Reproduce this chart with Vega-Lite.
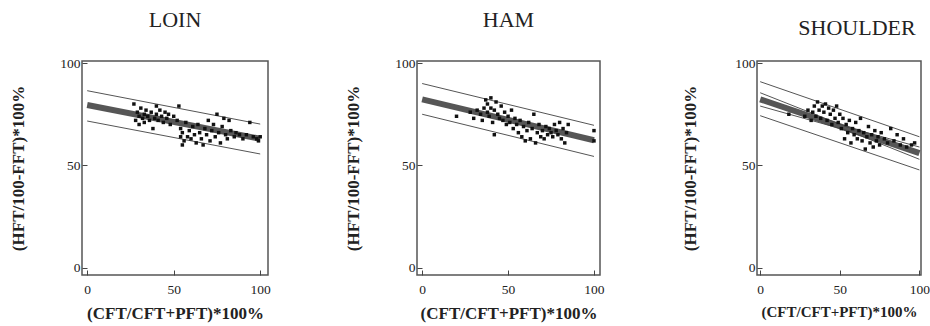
{
  "$schema": "https://vega.github.io/schema/vega-lite/v6.json",
  "background": "white",
  "padding": {"left": 9, "top": 8, "right": 0, "bottom": 0},
  "config": {
    "view": {"stroke": "#555", "strokeWidth": 1.5},
    "axis": {
      "labelFont": "Liberation Serif", "labelFontSize": 13.5, "labelColor": "#222",
      "titleFont": "Liberation Serif", "titleFontSize": 17, "titleFontWeight": "bold", "titleColor": "#222",
      "domain": false, "grid": false, "tickSize": -5, "tickColor": "#444", "tickWidth": 1
    },
    "title": {"font": "Liberation Serif", "fontSize": 22, "fontWeight": "normal", "color": "#222"}
  },
  "datasets": {
    "loin_pts": [
      {"x":27,"y":80},{"x":28,"y":72},{"x":29,"y":76},{"x":30,"y":74},{"x":30,"y":70},{"x":31,"y":78},{"x":32,"y":73},{"x":33,"y":75},{"x":33,"y":71},{"x":34,"y":77},
      {"x":35,"y":74},{"x":36,"y":72},{"x":37,"y":76},{"x":38,"y":68},{"x":39,"y":73},{"x":40,"y":79},{"x":40,"y":75},{"x":41,"y":72},{"x":42,"y":77},{"x":43,"y":74},
      {"x":44,"y":71},{"x":45,"y":76},{"x":46,"y":73},{"x":47,"y":75},{"x":48,"y":70},{"x":50,"y":74},{"x":52,"y":72},{"x":53,"y":79},{"x":54,"y":68},{"x":54,"y":64},
      {"x":55,"y":60},{"x":55,"y":66},{"x":56,"y":62},{"x":57,"y":71},{"x":58,"y":64},{"x":59,"y":67},{"x":60,"y":63},{"x":61,"y":69},{"x":62,"y":65},{"x":63,"y":61},
      {"x":64,"y":70},{"x":65,"y":66},{"x":66,"y":63},{"x":67,"y":60},{"x":68,"y":68},{"x":69,"y":65},{"x":70,"y":72},{"x":71,"y":62},{"x":72,"y":67},{"x":73,"y":70},
      {"x":74,"y":64},{"x":75,"y":75},{"x":76,"y":66},{"x":77,"y":61},{"x":78,"y":69},{"x":79,"y":73},{"x":80,"y":65},{"x":81,"y":63},{"x":82,"y":72},{"x":83,"y":67},
      {"x":85,"y":64},{"x":86,"y":66},{"x":88,"y":65},{"x":90,"y":63},{"x":92,"y":65},{"x":94,"y":71},{"x":96,"y":64},{"x":98,"y":63},{"x":99,"y":62},{"x":100,"y":64}
    ],
    "loin_lines": [
      {"s":"fit","x":0,"y":79.5},{"s":"fit","x":100,"y":63},
      {"s":"upper","x":0,"y":86.5},{"s":"upper","x":100,"y":70.2},
      {"s":"lower","x":0,"y":71.7},{"s":"lower","x":100,"y":55.6}
    ],
    "ham_pts": [
      {"x":20,"y":74},{"x":28,"y":76},{"x":30,"y":73},{"x":32,"y":77},{"x":34,"y":75},{"x":35,"y":72},{"x":36,"y":78},{"x":37,"y":82},{"x":38,"y":80},{"x":38,"y":76},
      {"x":39,"y":74},{"x":40,"y":83},{"x":40,"y":78},{"x":41,"y":71},{"x":42,"y":65},{"x":42,"y":77},{"x":43,"y":81},{"x":44,"y":75},{"x":45,"y":73},{"x":46,"y":79},
      {"x":47,"y":72},{"x":48,"y":76},{"x":49,"y":70},{"x":50,"y":74},{"x":51,"y":71},{"x":52,"y":77},{"x":53,"y":68},{"x":54,"y":73},{"x":55,"y":70},{"x":56,"y":66},
      {"x":57,"y":72},{"x":58,"y":64},{"x":59,"y":69},{"x":60,"y":62},{"x":61,"y":67},{"x":62,"y":71},{"x":63,"y":63},{"x":64,"y":68},{"x":65,"y":75},{"x":66,"y":61},
      {"x":67,"y":66},{"x":68,"y":70},{"x":69,"y":64},{"x":70,"y":67},{"x":71,"y":63},{"x":72,"y":69},{"x":73,"y":65},{"x":74,"y":68},{"x":75,"y":66},{"x":76,"y":64},
      {"x":77,"y":70},{"x":78,"y":67},{"x":79,"y":65},{"x":80,"y":71},{"x":81,"y":63},{"x":82,"y":68},{"x":83,"y":61},{"x":84,"y":66},{"x":85,"y":70},{"x":100,"y":67},{"x":100,"y":62}
    ],
    "ham_lines": [
      {"s":"fit","x":0,"y":82.3},{"s":"fit","x":100,"y":62.3},
      {"s":"upper","x":0,"y":90},{"s":"upper","x":100,"y":69.6},
      {"s":"lower","x":0,"y":75},{"s":"lower","x":100,"y":54.4}
    ],
    "sh_pts": [
      {"x":18,"y":75},{"x":28,"y":74},{"x":30,"y":77},{"x":32,"y":72},{"x":33,"y":76},{"x":34,"y":79},{"x":35,"y":74},{"x":36,"y":81},{"x":37,"y":77},{"x":38,"y":73},
      {"x":39,"y":79},{"x":40,"y":76},{"x":41,"y":80},{"x":42,"y":72},{"x":43,"y":78},{"x":44,"y":75},{"x":45,"y":70},{"x":46,"y":77},{"x":47,"y":73},{"x":48,"y":79},
      {"x":49,"y":71},{"x":50,"y":75},{"x":51,"y":68},{"x":52,"y":73},{"x":53,"y":63},{"x":54,"y":70},{"x":55,"y":66},{"x":56,"y":72},{"x":57,"y":61},{"x":58,"y":68},
      {"x":59,"y":65},{"x":60,"y":71},{"x":61,"y":63},{"x":62,"y":67},{"x":63,"y":73},{"x":64,"y":62},{"x":65,"y":66},{"x":66,"y":58},{"x":67,"y":64},{"x":68,"y":69},
      {"x":69,"y":61},{"x":70,"y":65},{"x":71,"y":59},{"x":72,"y":67},{"x":73,"y":62},{"x":74,"y":64},{"x":75,"y":60},{"x":76,"y":66},{"x":78,"y":63},{"x":80,"y":61},
      {"x":82,"y":68},{"x":84,"y":62},{"x":86,"y":65},{"x":88,"y":60},{"x":90,"y":63},{"x":92,"y":59},{"x":95,"y":60},{"x":97,"y":61}
    ],
    "sh_lines": [
      {"s":"fit","x":0,"y":82.3},{"s":"fit","x":100,"y":56},
      {"s":"upper","x":0,"y":90.9},{"s":"upper","x":100,"y":64},
      {"s":"lower","x":0,"y":74.3},{"s":"lower","x":100,"y":47.8},
      {"s":"cu","x":0,"y":85.5},{"s":"cu","x":55,"y":68.6},{"s":"cu","x":100,"y":59},
      {"s":"cl","x":0,"y":79},{"s":"cl","x":55,"y":67},{"s":"cl","x":100,"y":53}
    ]
  },
  "hconcat": [
    {
      "spacing": 71,
      "hconcat": [
        {
          "title": {"text": "LOIN", "offset": 24},
          "width": 186, "height": 214,
          "layer": [
            {
              "data": {"name": "loin_lines"},
              "transform": [{"filter": "datum.s !== 'fit'"}],
              "mark": {"type": "line", "color": "#555", "strokeWidth": 1},
              "encoding": {
                "x": {"field": "x", "type": "quantitative", "scale": {"domain": [-3, 104.5], "nice": false, "zero": false},
                      "axis": {"title": "(CFT/CFT+PFT)*100%", "values": [0, 50, 100], "labelPadding": 12, "titlePadding": 10}},
                "y": {"field": "y", "type": "quantitative", "scale": {"domain": [-3.5, 101], "nice": false, "zero": false},
                      "axis": {"title": "(HFT/100-FFT)*100%", "values": [0, 50, 100], "labelPadding": 7, "titlePadding": 32}},
                "detail": {"field": "s"}
              }
            },
            {
              "data": {"name": "loin_lines"},
              "transform": [{"filter": "datum.s === 'fit'"}],
              "mark": {"type": "line", "color": "#444", "strokeWidth": 6, "opacity": 0.9},
              "encoding": {"x": {"field": "x", "type": "quantitative"}, "y": {"field": "y", "type": "quantitative"}}
            },
            {
              "data": {"name": "loin_pts"},
              "mark": {"type": "square", "color": "#111", "size": 12, "opacity": 1},
              "encoding": {"x": {"field": "x", "type": "quantitative"}, "y": {"field": "y", "type": "quantitative"}}
            }
          ]
        },
        {
          "title": {"text": "HAM", "offset": 24},
          "width": 183, "height": 214,
          "layer": [
            {
              "data": {"name": "ham_lines"},
              "transform": [{"filter": "datum.s !== 'fit'"}],
              "mark": {"type": "line", "color": "#555", "strokeWidth": 1},
              "encoding": {
                "x": {"field": "x", "type": "quantitative", "scale": {"domain": [-3, 103.5], "nice": false, "zero": false},
                      "axis": {"title": "(CFT/CFT+PFT)*100%", "values": [0, 50, 100], "labelPadding": 12, "titlePadding": 10}},
                "y": {"field": "y", "type": "quantitative", "scale": {"domain": [-3.5, 101], "nice": false, "zero": false},
                      "axis": {"title": "(HFT/100-FFT)*100%", "values": [0, 50, 100], "labelPadding": 7, "titlePadding": 32}},
                "detail": {"field": "s"}
              }
            },
            {
              "data": {"name": "ham_lines"},
              "transform": [{"filter": "datum.s === 'fit'"}],
              "mark": {"type": "line", "color": "#444", "strokeWidth": 6, "opacity": 0.9},
              "encoding": {"x": {"field": "x", "type": "quantitative"}, "y": {"field": "y", "type": "quantitative"}}
            },
            {
              "data": {"name": "ham_pts"},
              "mark": {"type": "square", "color": "#111", "size": 12, "opacity": 1},
              "encoding": {"x": {"field": "x", "type": "quantitative"}, "y": {"field": "y", "type": "quantitative"}}
            }
          ]
        }
      ]
    },
    {
      "title": {"text": "SHOULDER", "offset": 16, "dx": 18},
      "width": 164, "height": 214,
      "layer": [
        {
          "data": {"name": "sh_lines"},
          "transform": [{"filter": "datum.s !== 'fit'"}],
          "mark": {"type": "line", "color": "#555", "strokeWidth": 1},
          "encoding": {
            "x": {"field": "x", "type": "quantitative", "scale": {"domain": [-2, 101], "nice": false, "zero": false},
                  "axis": {"title": "(CFT/CFT+PFT)*100%", "titleFontSize": 15, "values": [0, 50, 100], "labelPadding": 12, "titlePadding": 9}},
            "y": {"field": "y", "type": "quantitative", "scale": {"domain": [-3.5, 101], "nice": false, "zero": false},
                  "axis": {"title": "(HFT/100-FFT)*100%", "values": [0, 50, 100], "labelPadding": 7, "titlePadding": 35}},
            "detail": {"field": "s"}
          }
        },
        {
          "data": {"name": "sh_lines"},
          "transform": [{"filter": "datum.s === 'fit'"}],
          "mark": {"type": "line", "color": "#444", "strokeWidth": 6, "opacity": 0.9},
          "encoding": {"x": {"field": "x", "type": "quantitative"}, "y": {"field": "y", "type": "quantitative"}}
        },
        {
          "data": {"name": "sh_pts"},
          "mark": {"type": "square", "color": "#111", "size": 12, "opacity": 1},
          "encoding": {"x": {"field": "x", "type": "quantitative"}, "y": {"field": "y", "type": "quantitative"}}
        }
      ]
    }
  ],
  "spacing": 74
}
